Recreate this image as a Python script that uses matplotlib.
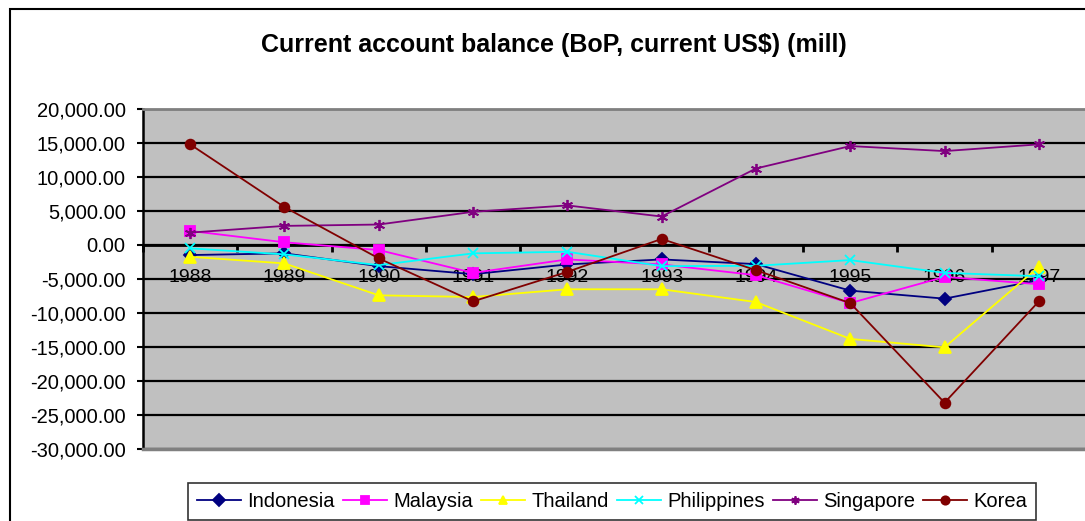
import matplotlib
matplotlib.use("Agg")
import matplotlib.pyplot as plt
from matplotlib.patches import Rectangle
from matplotlib.ticker import FuncFormatter, FixedLocator

plt.rcParams['font.family'] = ['Liberation Sans', 'DejaVu Sans']

years = ['1988', '1989', '1990', '1991', '1992', '1993', '1994', '1995', '1996', '1997']
indonesia = [-1480, -1230, -3110, -4290, -2860, -2120, -2810, -6710, -7890, -5180]
malaysia = [2070, 400, -740, -4100, -2120, -2860, -4440, -8540, -4690, -5770]
thailand = [-1730, -2710, -7400, -7650, -6510, -6510, -8390, -13810, -15050, -3210]
philippines = [-490, -1380, -2960, -1230, -990, -3110, -3060, -2220, -4100, -4590]
singapore = [1820, 2810, 3010, 4880, 5820, 4190, 11250, 14550, 13810, 14800]
korea = [14800, 5580, -1970, -8290, -3950, 890, -3700, -8540, -23190, -8290]

title = 'Current account balance (BoP, current US$) (mill)'

series = [
    ('Indonesia', indonesia, '#000080', 'D', 6),
    ('Malaysia', malaysia, '#FF00FF', 's', 7),
    ('Thailand', thailand, '#FFFF00', '^', 8),
    ('Philippines', philippines, '#00FFFF', 'x', 7),
    ('Singapore', singapore, '#800080', (6, 2, 0), 8),
    ('Korea', korea, '#800000', 'o', 7),
]

fig = plt.figure(figsize=(10.85, 5.21), dpi=100)
W, H = 1085, 521
ax = fig.add_axes([143 / W, 1 - 449 / H, (1086 - 143) / W, (449 - 109) / H])
ax.set_facecolor('#C0C0C0')

x = list(range(len(years)))
for name, vals, col, mk, ms in series:
    ax.plot(x, vals, color=col, lw=1.3, marker=mk, markersize=ms,
            markerfacecolor=col, markeredgecolor=col, mew=1.3, label=name,
            clip_on=False, zorder=3)

ax.set_xlim(-0.5, len(years) - 0.5)
ax.set_ylim(-30000, 20000)
ax.set_yticks(list(range(-30000, 20001, 5000)))
ax.yaxis.set_major_formatter(FuncFormatter(lambda v, p: f'{v:,.2f}'))
ax.grid(axis='y', color='black', lw=1.6)
ax.set_axisbelow(True)

# x axis at zero
ax.spines['bottom'].set_position(('data', 0))
ax.spines['bottom'].set_color('black')
ax.spines['bottom'].set_linewidth(2)
ax.spines['bottom'].set_zorder(2.5)
ax.spines['right'].set_visible(False)
ax.spines['top'].set_color('#808080')
ax.spines['top'].set_linewidth(2)
ax.spines['left'].set_color('black')
ax.spines['left'].set_linewidth(1.8)
ax.axhline(-30000, color='#808080', lw=2.5, zorder=2.6, clip_on=False)

ax.xaxis.set_major_locator(FixedLocator([i - 0.5 for i in range(len(years) + 1)]))
ax.xaxis.set_minor_locator(FixedLocator(x))
ax.set_xticklabels([], minor=False)
ax.set_xticklabels(years, minor=True)
ax.tick_params(axis='x', which='major', direction='out', length=5, width=2, color='black')
ax.tick_params(axis='x', which='minor', length=0, pad=17.5, labelsize=14)
ax.tick_params(axis='y', direction='out', length=4.5, width=1.5, pad=8, labelsize=14.5)

fig.text(554 / W, 1 - 45 / H, title, ha='center', va='center', fontsize=18, fontweight='bold')

# outer chart border
fig.add_artist(Rectangle((10 / W, -0.05), 1.2, 1.05 - 9 / H, transform=fig.transFigure,
                         fill=False, edgecolor='black', lw=1.5))

leg = fig.legend(loc='center', bbox_to_anchor=(612 / W, 1 - 501.5 / H), ncol=6,
                 fontsize=14.5, frameon=True, fancybox=False, edgecolor='black',
                 handlelength=2.2, handletextpad=0.3, columnspacing=0.4,
                 borderpad=0.45, borderaxespad=0)
leg.get_frame().set_linewidth(1.2)
for h in leg.legend_handles:
    h.set_markersize(6)

fig.savefig('out.png', dpi=100)
